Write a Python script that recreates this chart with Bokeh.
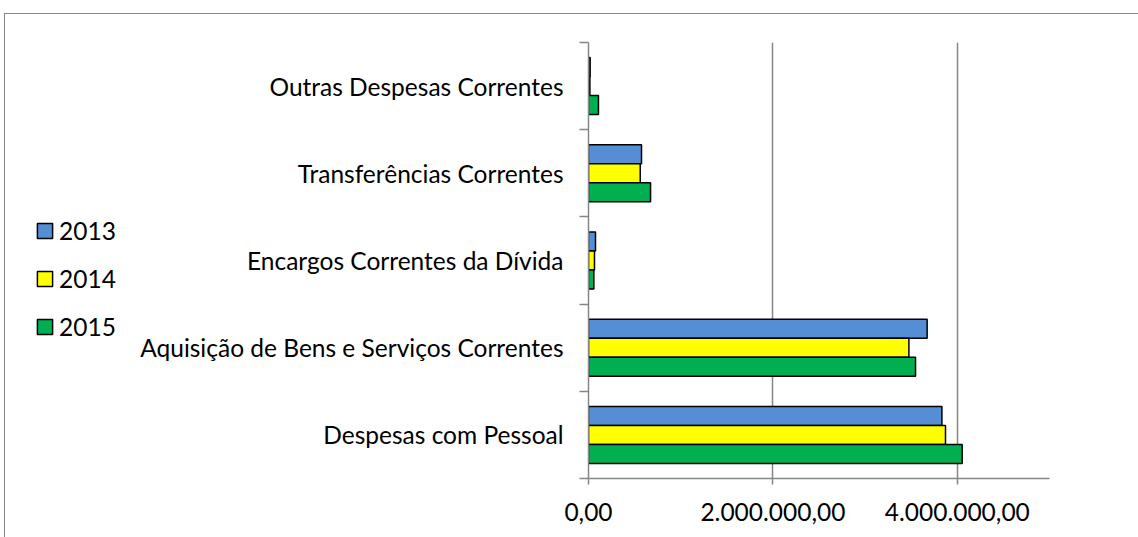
from bokeh.plotting import figure
from bokeh.layouts import row
from bokeh.models import (Range1d, FixedTicker, Legend, LegendItem, ColumnDataSource, InlineStyleSheet)
from bokeh.embed import file_html
from bokeh.resources import INLINE

categories = ["Despesas com Pessoal",
              "Aquisição de Bens e Serviços Correntes",
              "Encargos Correntes da Dívida",
              "Transferências Correntes",
              "Outras Despesas Correntes"]
years = ["2013", "2014", "2015"]
v2013 = [3833000, 3673000, 76000, 575000, 18000]
v2014 = [3872000, 3475000, 65000, 561000, 15000]
v2015 = [4053000, 3547000, 58000, 673000, 108000]
colors = ["#558ED5", "#FFFF00", "#00B050"]
x_ticks = [0, 2000000, 4000000]
x_tick_labels = ["0,00", "2.000.000,00", "4.000.000,00"]

FONT = "Lato"
FS = "24.5px"
W, H = 1138, 537
LW = 130  # width of the legend strip on the left

# ---------------- main chart ----------------
p = figure(width=W - LW, height=H, output_backend="svg", toolbar_location=None,
           x_range=Range1d(0, 5000000), y_range=Range1d(0, len(categories)),
           min_border_left=588 - LW, min_border_right=89, min_border_top=42, min_border_bottom=59)
p.outline_line_color = None
p.background_fill_color = "white"
p.border_fill_color = "white"

bar_h = 0.218
offsets = [bar_h, 0.0, -bar_h]
for vals, c, off in zip([v2013, v2014, v2015], colors, offsets):
    src = ColumnDataSource(dict(y=[i + 0.5 + off for i in range(len(categories))], right=vals))
    p.hbar(y="y", left=0, right="right", height=bar_h, source=src,
           fill_color=c, line_color="black", line_width=1.5)

xa = p.xaxis[0]
xa.ticker = FixedTicker(ticks=x_ticks)
xa.major_label_overrides = dict(zip(x_ticks, x_tick_labels))
xa.axis_line_color = "#868686"
xa.axis_line_width = 1.5
xa.major_tick_line_color = "#868686"
xa.major_tick_line_width = 1.5
xa.major_tick_out = 6
xa.major_tick_in = 0
xa.minor_tick_line_color = None
xa.major_label_text_font = FONT
xa.major_label_text_font_size = FS
xa.major_label_text_color = "black"
xa.major_label_standoff = 18

ya = p.yaxis[0]
ya.ticker = FixedTicker(ticks=[i + 0.5 for i in range(len(categories))],
                        minor_ticks=list(range(len(categories) + 1)))
ya.major_label_overrides = {i + 0.5: c for i, c in enumerate(categories)}
ya.axis_line_color = "#868686"
ya.axis_line_width = 1.5
ya.major_tick_line_color = None
ya.major_tick_out = 0
ya.major_tick_in = 0
ya.minor_tick_line_color = "#868686"
ya.minor_tick_line_width = 1.5
ya.minor_tick_out = 9
ya.minor_tick_in = 0
ya.major_label_text_font = FONT
ya.major_label_text_font_size = FS
ya.major_label_text_color = "black"
ya.major_label_standoff = 16

p.xgrid.ticker = FixedTicker(ticks=x_ticks[1:])
p.xgrid.grid_line_color = "#868686"
p.xgrid.grid_line_width = 1.5
p.ygrid.grid_line_color = None

# ---------------- legend strip ----------------
lg = figure(width=LW, height=H, output_backend="svg", toolbar_location=None,
            x_range=Range1d(0, 1), y_range=Range1d(0, 1),
            x_axis_type=None, y_axis_type=None,
            min_border_left=0, min_border_right=0, min_border_top=0, min_border_bottom=0)
lg.outline_line_color = None
lg.background_fill_color = "white"
lg.border_fill_color = "white"
items = []
for y, c in zip(years, colors):
    # legend swatches only (no drawable data)
    r = lg.hbar(y=[float("nan")], left=[0], right=[1], height=0.1,
                fill_color=c, line_color="black", line_width=1.5)
    items.append(LegendItem(label=y, renderers=[r]))
legend = Legend(items=items, location=(35, 137), orientation="vertical",
                label_text_font=FONT, label_text_font_size=FS, label_text_color="black",
                glyph_width=19, glyph_height=19, spacing=19, padding=0, margin=0,
                label_standoff=5, border_line_color=None, background_fill_alpha=0)
lg.add_layout(legend)

layout = row(lg, p, spacing=0)
layout.stylesheets = [InlineStyleSheet(css=""":host { position: relative; overflow: hidden; }
:host::after { content: ''; position: absolute;
  left: 4px; top: 13px; width: 2000px; height: 2000px; border: 1px solid #868686;
  pointer-events: none; box-sizing: border-box; }""")]

open("out.html", "w").write(file_html(layout, INLINE))
